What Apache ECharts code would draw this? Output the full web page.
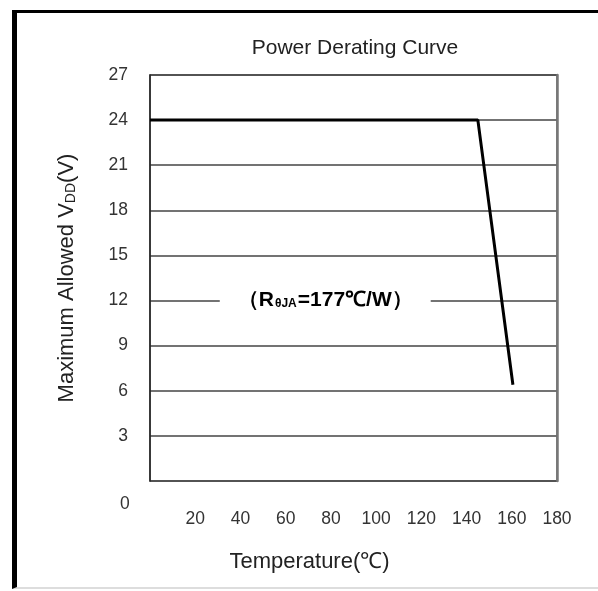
<!DOCTYPE html>
<html>
<head>
<meta charset="utf-8">
<script src="https://cdn.jsdelivr.net/npm/echarts@6/dist/echarts.min.js"></script>
<style>
  html, body { margin: 0; padding: 0; background: #fff; }
  #frame { position: absolute; left: 12px; top: 10px; width: 586px; height: 579px;
           border-left: 5px solid #000; border-top: 3px solid #000; border-bottom: 2px solid #ddd; box-sizing: border-box; }
  #main { position: absolute; left: 0; top: 0; width: 598px; height: 591px; }
</style>
</head>
<body>
<div id="frame"></div>
<div id="main"></div>
<script>
// derating curve points: [temperature °C, max VDD V]
const temps = [0, 145, 160.5];
const vdd = [24, 24, 6.4];
const xTicks = [0, 20, 40, 60, 80, 100, 120, 140, 160, 180];
const yTicks = [0, 3, 6, 9, 12, 15, 18, 21, 24, 27];
const note = { temp: 77.5, v: 12 };

const chart = echarts.init(document.getElementById('main'));
const font = 'Liberation Sans, Arial, sans-serif';

chart.setOption({
  animation: false,
  title: {
    text: 'Power Derating Curve',
    left: 350, top: 33, textAlign: 'center',
    textStyle: { fontFamily: font, fontSize: 21, fontWeight: 'normal', color: '#222' }
  },
  grid: {
    left: 150, top: 75, right: 41, bottom: 110,
    show: true, borderColor: '#555', borderWidth: 1.5
  },
  xAxis: {
    type: 'value', min: 0, max: 180, interval: 20,
    name: 'Temperature(℃)', nameLocation: 'middle', nameGap: 70,
    nameTextStyle: { fontFamily: font, fontSize: 22, color: '#222', padding: [0, 88, 0, 0] },
    axisLine: { show: false },
    axisTick: { show: false },
    splitLine: { show: false },
    axisLabel: {
      showMinLabel: false, margin: 29,
      fontFamily: font, fontSize: 17.5, color: '#333'
    }
  },
  yAxis: [{
    type: 'value', min: 0, max: 27, interval: 3,
    name: '{a|Maximum Allowed V}{s|DD}{a|(V)}', nameLocation: 'middle', nameGap: 72,
    nameTextStyle: {
      rich: {
        a: { fontFamily: font, fontSize: 22, color: '#222' },
        s: { fontFamily: font, fontSize: 14, color: '#222', padding: [8, 0, 0, 0] }
      }
    },
    axisLine: { show: true, lineStyle: { color: '#222', width: 1.5 } },
    axisTick: { show: false },
    splitLine: { show: true, lineStyle: { color: '#444', width: 1.5 } },
    axisLabel: {
      showMinLabel: false, margin: 22,
      fontFamily: font, fontSize: 17.5, color: '#333'
    }
  }, {
    type: 'value', min: 0, max: 27, interval: 3, position: 'right',
    axisLine: { show: true, lineStyle: { color: '#777', width: 2.5 } },
    axisTick: { show: false }, axisLabel: { show: false }, splitLine: { show: false }
  }],
  graphic: [{
    type: 'text', left: 120, top: 495,
    style: { text: '0', fontFamily: font, fontSize: 17.5, fill: '#333' }
  }],
  series: [{
    type: 'line',
    data: temps.map((t, i) => [t, vdd[i]]),
    symbol: 'none',
    lineStyle: { color: '#000', width: 3 },
    markPoint: {
      symbol: 'rect', symbolSize: 0,
      data: [{ coord: [note.temp, note.v] }],
      label: {
        show: true, position: 'inside',
        formatter: '{p|（}{r|R}{sub|θJA}{p|=177℃/W）}',
        backgroundColor: '#fff', padding: [4, 18],
        rich: {
          p: { fontFamily: font, fontSize: 21, fontWeight: 'bold', color: '#000' },
          r: { fontFamily: font, fontSize: 21, fontWeight: 'bold', color: '#000' },
          sub: { fontFamily: font, fontSize: 12, fontWeight: 'bold', color: '#000', padding: [7, 1, 0, 1] }
        }
      }
    }
  }]
});
</script>
</body>
</html>
